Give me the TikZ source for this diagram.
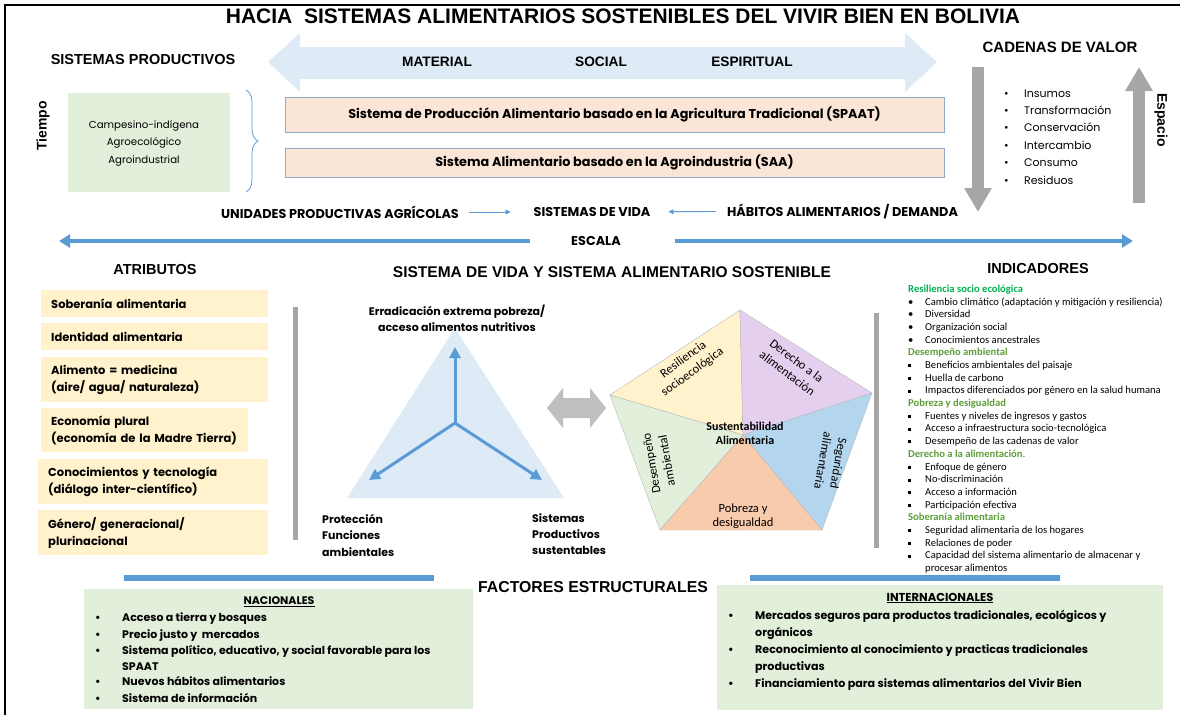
\documentclass[tikz,border=0pt]{standalone}
\usepackage{fontspec}
\setmainfont{Poppins}
\newfontfamily\arialf{Liberation Sans}
\newfontfamily\calf{Carlito}
\usetikzlibrary{arrows.meta,decorations.pathreplacing,calc}
\definecolor{lblue}{HTML}{DEEBF7}
\definecolor{salmon}{HTML}{FBE5D6}
\definecolor{boxedge}{HTML}{8EA9C9}
\definecolor{lgreen}{HTML}{E2EFDA}
\definecolor{lyellow}{HTML}{FFF2CC}
\definecolor{mblue}{HTML}{5B9BD5}
\definecolor{mgray}{HTML}{A6A6A6}
\definecolor{lgray}{HTML}{BFBFBF}
\definecolor{ppur}{HTML}{E5CFEF}
\definecolor{pblu}{HTML}{B4D5EE}
\definecolor{pora}{HTML}{F8CBAD}
\definecolor{igreen}{HTML}{00B050}
\definecolor{ogreen}{HTML}{5E9E3A}
\newcommand{\IHa}[1]{{\bfseries\color{igreen}#1}}
\newcommand{\IHb}[1]{{\bfseries\color{ogreen}#1}}
\newcommand{\IRb}[1]{\makebox[17pt][l]{\textbullet}#1}
\newcommand{\ISq}[1]{\makebox[17pt][l]{\raisebox{1.2pt}{\rule{3pt}{3pt}}}#1}
\newcommand{\ICo}[1]{\hspace*{17pt}#1}
\newcommand{\BBul}[1]{\makebox[27pt][l]{\textbullet}#1}
\newcommand{\BCon}[1]{\hspace*{27pt}#1}
\newcommand{\hfs}[1]{\arialf\bfseries\fontsize{#1}{#1}\selectfont}
\tikzset{
  hdr/.style={font=\hfs{14.5}, inner sep=0pt},
  cgb/.style={font=\bfseries\fontsize{12.8}{17}\selectfont, inner sep=0pt},
  cgr/.style={font=\fontsize{11}{17.5}\selectfont, inner sep=0pt},
  indic/.style={font=\calf\fontsize{10.6}{12}\selectfont, inner sep=0pt, anchor=base west},
  attr/.style={fill=lyellow, anchor=north west, inner xsep=10pt, inner ysep=0pt, align=left,
     font=\bfseries\fontsize{11.5}{17}\selectfont},
  prodbox/.style={fill=salmon, draw=boxedge, line width=0.8pt, inner sep=0pt,
     minimum width=659pt, font=\bfseries\fontsize{12.8}{14}\selectfont},
  thinarrow/.style={mblue, line width=0.9pt, -{Triangle[length=5pt,width=5pt]}},
  bigblue/.style={mblue, line width=3.5pt, -{Triangle[length=11pt,width=13pt]}},
  triarrow/.style={mblue, line width=3pt, -{Triangle[length=11pt,width=11pt]}},
  grayarrow/.style={mgray, line width=12pt, -{Triangle[length=24pt,width=26pt]}},
  graybar/.style={mgray, line width=5pt},
  blubar/.style={mblue, line width=5.5pt},
  sector/.style={draw=gray!55, line width=0.4pt},
  pent/.style={font=\calf\fontsize{12.5}{15.5}\selectfont, align=center, inner sep=0pt},
  botb/.style={font=\bfseries\fontsize{11}{14}\selectfont, inner sep=0pt, anchor=base west},
}
\begin{document}
\begin{tikzpicture}[x=1pt,y=-1pt]
\useasboundingbox (0,0) rectangle (1180,715);
% frame
\draw[line width=2.5pt] (5,715) -- (5,5) -- (1180,5);
% title
\node[font=\hfs{21}, inner sep=0pt] (title) at (623,16.5)
  {HACIA\ \ SISTEMAS ALIMENTARIOS SOSTENIBLES DEL VIVIR BIEN EN BOLIVIA};
% big double arrow
\fill[lblue] (268,62) -- (300,33) -- (300,47) -- (905,47) -- (905,33) -- (937,62)
  -- (905,92) -- (905,79) -- (300,79) -- (300,92) -- cycle;
\node[hdr, font=\hfs{13.7}] (mat) at (437,62) {MATERIAL};
\node[hdr, font=\hfs{13.7}] (soc) at (601,62) {SOCIAL};
\node[hdr, font=\hfs{13.7}] (esp) at (752,62) {ESPIRITUAL};
\node[hdr] (sp) at (143,60) {SISTEMAS PRODUCTIVOS};
\node[hdr, font=\hfs{15}] (cv) at (1060,47) {CADENAS DE VALOR};
% green box
\node[fill=lgreen, minimum width=162pt, minimum height=99pt, inner sep=0pt] (tipos) at (149,142.5) {};
\node[cgr, align=center, font=\fontsize{10.2}{17.5}\selectfont] (tipostxt) at (144,143) {Campesino-indígena\\Agroecológico\\Agroindustrial};
\node[hdr, font=\hfs{14}, rotate=90] (tiempo) at (43,126) {Tiempo};
% brace
\draw[mblue, line width=0.8pt, decorate, decoration={brace, amplitude=12pt}] (246,90) -- (246,192);
% production boxes
\node[prodbox, minimum height=35pt] (spaat) at (614.5,114.5)
  {Sistema de Producción Alimentario basado en la Agricultura Tradicional (SPAAT)};
\node[prodbox, minimum height=29pt] (saa) at (614.5,162.5)
  {Sistema Alimentario basado en la Agroindustria (SAA)};
% gray arrows
\coordinate (dnA) at (978,67); \coordinate (dnB) at (978,212);
\coordinate (upA) at (1139,203); \coordinate (upB) at (1139,67);
\draw[grayarrow] (dnA) -- (dnB);
\draw[grayarrow] (upA) -- (upB);
\node[hdr, font=\hfs{14}, rotate=-90] (espacio) at (1161,120) {Espacio};
% cadenas list
\foreach \t/\yy [count=\i] in {Insumos/93, Transformación/110, Conservación/127.5, Intercambio/145, Consumo/162.5, Residuos/180}{
  \node[cgr, anchor=base west] (cad\i) at (1004,\yy+4) {\makebox[20pt][l]{\textbullet}\t};
}
% flow row
\node[cgb] (upa) at (340,212) {UNIDADES PRODUCTIVAS AGRÍCOLAS};
\node[cgb] (sdv) at (592,212) {SISTEMAS DE VIDA};
\node[cgb] (hab) at (842.5,211) {HÁBITOS ALIMENTARIOS / DEMANDA};
\draw[thinarrow, shorten <=10pt, shorten >=23pt] (upa) -- (sdv);
\draw[thinarrow, shorten <=11pt, shorten >=18pt] (hab) -- (sdv);
% escala
\node[cgb] (escala) at (596,241) {ESCALA};
\coordinate (escL) at (59,241); \coordinate (escR) at (1133,241);
\draw[bigblue, shorten <=41pt] (escala.west) -- (escL);
\draw[bigblue, shorten <=54pt] (escala.east) -- (escR);
% section headers
\node[hdr] (atr) at (155,270) {ATRIBUTOS};
\node[hdr, font=\hfs{15.5}] (svsa) at (612,272) {SISTEMA DE VIDA Y SISTEMA ALIMENTARIO SOSTENIBLE};
\node[hdr] (indh) at (1038,269) {INDICADORES};
% attribute boxes
\node[attr, minimum height=27pt, text width=207pt] (a1) at (41,290) {Soberanía alimentaria};
\node[attr, minimum height=27pt, text width=207pt] (a2) at (41,323) {Identidad alimentaria};
\node[attr, minimum height=45pt, text width=207pt] (a3) at (41,357) {Alimento = medicina\\(aire/ agua/ naturaleza)};
\node[attr, minimum height=44pt, text width=187pt] (a4) at (41,408) {Economía plural\\(economía de la Madre Tierra)};
\node[attr, minimum height=45pt, text width=210pt] (a5) at (38,459) {Conocimientos y tecnología\\(diálogo inter-científico)};
\node[attr, minimum height=45pt, text width=210pt] (a6) at (38,510) {Género/ generacional/\\plurinacional};
% gray bars
\draw[graybar] (295,307) -- (295,540);
\draw[graybar] (876,313) -- (876,548);
% triangle
\fill[lblue] (455,328) -- (347,498) -- (564,498) -- cycle;
\coordinate (tc) at (455,423);
\coordinate (tT) at (455,347); \coordinate (tL) at (369,480); \coordinate (tR) at (542,480);
\draw[triarrow] (tc) -- (tT);
\draw[triarrow] (tc) -- (tL);
\draw[triarrow] (tc) -- (tR);
\node[cgb, align=center, font=\bfseries\fontsize{11}{16}\selectfont] (erra) at (457,318)
  {Erradicación extrema pobreza/\\acceso alimentos nutritivos};
\node[cgb, align=left, anchor=west, font=\bfseries\fontsize{11}{16.5}\selectfont] (prot) at (322,535)
  {Protección\\Funciones\\ambientales};
\node[cgb, align=left, anchor=west, font=\bfseries\fontsize{11}{16}\selectfont] (sps) at (532,534)
  {Sistemas\\Productivos\\sustentables};
% gray double arrow
\fill[lgray] (547,408) -- (563,388) -- (563,398) -- (590,398) -- (590,388) -- (606,408)
  -- (590,428) -- (590,418) -- (563,418) -- (563,428) -- cycle;
% pentagon
\coordinate (pT) at (740,310); \coordinate (pR) at (872,393); \coordinate (pBR) at (822,530);
\coordinate (pBL) at (660,530); \coordinate (pL) at (610,395); \coordinate (pC) at (743,435);
\filldraw[sector, fill=lyellow] (pT) -- (pL) -- (pC) -- cycle;
\filldraw[sector, fill=ppur] (pT) -- (pR) -- (pC) -- cycle;
\filldraw[sector, fill=lgreen] (pL) -- (pBL) -- (pC) -- cycle;
\filldraw[sector, fill=pblu] (pR) -- (pBR) -- (pC) -- cycle;
\filldraw[sector, fill=pora] (pBL) -- (pBR) -- (pC) -- cycle;
\node[pent, rotate=36] (res) at (688,366) {Resiliencia\\socioecológica};
\node[pent, rotate=-37] (der) at (792,367) {Derecho a la\\alimentación};
\node[pent, rotate=100] (des) at (659,462) {Desempeño\\ambiental};
\node[pent, rotate=-100] (seg) at (831,462) {Seguridad\\alimentaria};
\node[pent, font=\calf\bfseries\fontsize{12}{14}\selectfont] (sus) at (745,433) {Sustentabilidad\\Alimentaria};
\node[pent, font=\calf\fontsize{12.5}{14}\selectfont] (pob) at (743,516) {Pobreza y\\desigualdad};
% indicators
\foreach \k/\t [count=\i from 0] in {
  \IHa/Resiliencia socio ecológica,
  \IRb/Cambio climático (adaptación y mitigación y resiliencia),
  \IRb/Diversidad,
  \IRb/Organización social,
  \IRb/Conocimientos ancestrales,
  \IHb/Desempeño ambiental,
  \ISq/Beneficios ambientales del paisaje,
  \ISq/Huella de carbono,
  \ISq/Impactos diferenciados por género en la salud humana,
  \IHb/Pobreza y desigualdad,
  \ISq/Fuentes y niveles de ingresos y gastos,
  \ISq/Acceso a infraestructura socio-tecnológica,
  \ISq/Desempeño de las cadenas de valor,
  \IHb/Derecho a la alimentación.,
  \ISq/Enfoque de género,
  \ISq/No-discriminación,
  \ISq/Acceso a información,
  \ISq/Participación efectiva,
  \IHb/Soberanía alimentaria,
  \ISq/Seguridad alimentaria de los hogares,
  \ISq/Relaciones de poder,
  \ISq/Capacidad del sistema alimentario de almacenar y,
  \ICo/procesar alimentos}{
  \node[indic] (ind\i) at (908,{292.5+\i*12.68}) {\k{\t}};
}
% bottom
\node[hdr, font=\hfs{15.8}] (fe) at (593,587) {FACTORES ESTRUCTURALES};
\draw[blubar] (124,578) -- (434,578);
\draw[blubar] (750,578) -- (1060,578);
\node[fill=lgreen, minimum width=389pt, minimum height=120pt, inner sep=0pt, anchor=north west] (nac) at (84,589) {};
\node[fill=lgreen, minimum width=446pt, minimum height=125pt, inner sep=0pt, anchor=north west] (int) at (717,585) {};
\node[cgb, font=\bfseries\fontsize{11}{14}\selectfont] (nach) at (279,602) {\underline{NACIONALES}};
\node[cgb, font=\bfseries\fontsize{11.5}{14}\selectfont] (inth) at (940,598) {\underline{INTERNACIONALES}};
\foreach \k/\t/\yy [count=\i] in {
  \BBul/Acceso a tierra y bosques/617,
  \BBul/Precio justo y\ \ mercados/634,
  \BBul/Sistema político{,} educativo{,} y social favorable para los/650,
  \BCon/SPAAT/666,
  \BBul/Nuevos hábitos alimentarios/681,
  \BBul/Sistema de información/698}{
  \node[botb] (nac\i) at (95,\yy+4) {\k{\t}};
}
\foreach \k/\t/\yy [count=\i] in {
  \BBul/Mercados seguros para productos tradicionales{,} ecológicos y/615,
  \BCon/orgánicos/632,
  \BBul/Reconocimiento al conocimiento y practicas tradicionales/649,
  \BCon/productivas/666,
  \BBul/Financiamiento para sistemas alimentarios del Vivir Bien/683}{
  \node[botb, font=\bfseries\fontsize{11.1}{14}\selectfont] (int\i) at (728,\yy+4) {\k{\t}};
}
\end{tikzpicture}
\end{document}
